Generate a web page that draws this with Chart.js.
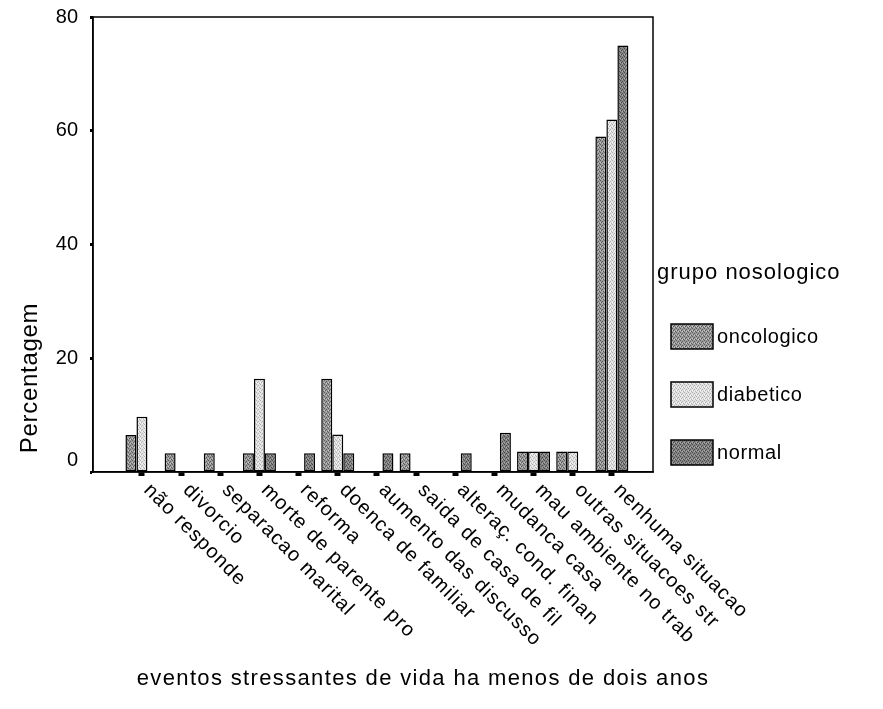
<!DOCTYPE html>
<html><head><meta charset="utf-8">
<script src="https://cdn.jsdelivr.net/npm/chart.js@4/dist/chart.umd.min.js"></script>
<style>html,body{margin:0;padding:0;background:#fff}#wrap{width:883px;height:709px}</style>
</head><body><div id="wrap"><canvas id="c" width="883" height="709"></canvas></div>
<script>
const categories = ["não responde","divorcio","separacao marital","morte de parente pro","reforma","doenca de familiar","aumento das discusso","saida de casa de fil","alteraç. cond. finan","mudanca casa","mau ambiente no trab","outras situacoes str","nenhuma situacao"];
const oncologico = [6.5, 3.3, 3.3, 3.3, 0, 16.4, 0, 3.3, 0, 0, 3.6, 3.6, 59];
const diabetico  = [9.7, 0, 0, 16.4, 0, 6.6, 0, 0, 0, 0, 3.6, 3.6, 62];
const normal     = [0, 0, 0, 3.3, 3.3, 3.3, 3.3, 0, 3.3, 6.9, 3.6, 0, 75];
const seriesNames = ["oncologico","diabetico","normal"];
const yTickValues = [0, 20, 40, 60, 80];
const xTitle = "eventos stressantes de vida ha menos de dois anos";
const yTitle = "Percentagem";
const legendTitle = "grupo nosologico";

const FONT = "'Liberation Sans', Arial, Helvetica, sans-serif";

function makePattern(base, dark, light) {
  const c = document.createElement('canvas');
  c.width = 4; c.height = 4;
  const g = c.getContext('2d');
  g.fillStyle = base; g.fillRect(0, 0, 4, 4);
  g.fillStyle = dark;
  g.fillRect(0, 0, 1, 1); g.fillRect(2, 1, 1, 1); g.fillRect(1, 2, 1, 1); g.fillRect(3, 3, 1, 1);
  g.fillStyle = light;
  g.fillRect(2, 3, 1, 1); g.fillRect(0, 2, 1, 1);
  return g.createPattern(c, 'repeat');
}
const canvas = document.getElementById('c');
const fills = [
  makePattern('#9a9a9a', '#5a5a5a', '#c6c6c6'),
  makePattern('#e2e2e2', '#b0b0b0', '#f8f8f8'),
  makePattern('#848484', '#4a4a4a', '#aaaaaa')
];
const seriesValues = [oncologico, diabetico, normal];

function spacedText(ctx, text, x, y, spacing) {
  if ('letterSpacing' in ctx) {
    ctx.letterSpacing = spacing + 'px';
    ctx.fillText(text, x, y);
    ctx.letterSpacing = '0px';
  } else {
    ctx.fillText(text, x, y);
  }
}

const decor = {
  id: 'decor',
  afterDatasetsDraw(chart) {
    const {ctx, chartArea: a} = chart;
    ctx.save();
    ctx.strokeStyle = '#000';
    ctx.lineWidth = 1.5;
    ctx.strokeRect(a.left, a.top, a.right - a.left, a.bottom - a.top);
    ctx.restore();
  },
  afterDraw(chart) {
    const {ctx, chartArea: a} = chart;
    const xs = chart.scales.x;
    ctx.save();
    ctx.fillStyle = '#000';
    // category labels, slanted downward
    ctx.font = '20px ' + FONT;
    ctx.textAlign = 'left';
    ctx.textBaseline = 'top';
    categories.forEach((lab, i) => {
      const px = xs.getPixelForValue(i);
      ctx.save();
      ctx.translate(px + 12, a.bottom + 8);
      ctx.rotate(Math.PI / 4);
      spacedText(ctx, lab, 0, 0, 1.1);
      ctx.restore();
    });
    // x title
    ctx.font = '22px ' + FONT;
    ctx.textAlign = 'center';
    ctx.textBaseline = 'middle';
    spacedText(ctx, xTitle, 423, 679, 1.35);
    // y title
    ctx.save();
    ctx.font = '24px ' + FONT;
    ctx.translate(30, 378);
    ctx.rotate(-Math.PI / 2);
    spacedText(ctx, yTitle, 0, 0, 0.7);
    ctx.restore();
    // legend
    ctx.textAlign = 'left';
    ctx.font = '22px ' + FONT;
    spacedText(ctx, legendTitle, 657, 273, 1);
    ctx.font = '20px ' + FONT;
    chart.data.datasets.forEach((ds, k) => {
      const top = 324 + k * 58;
      ctx.fillStyle = ds.backgroundColor;
      ctx.fillRect(671, top, 42, 25);
      ctx.strokeStyle = '#000';
      ctx.lineWidth = 1.5;
      ctx.strokeRect(671, top, 42, 25);
      ctx.fillStyle = '#000';
      spacedText(ctx, ds.label, 717, top + 13, 0.6);
    });
    ctx.restore();
  }
};

new Chart(canvas, {
  type: 'bar',
  data: {
    datasets: seriesNames.map((name, k) => ({
      label: name,
      data: seriesValues[k].map((v, i) => ({x: i, y: v})),
      backgroundColor: fills[k],
      borderColor: '#000',
      borderWidth: 1.5,
      borderSkipped: false
    }))
  },
  options: {
    responsive: false,
    animation: false,
    devicePixelRatio: 1,
    layout: {padding: {top: 17, right: 230, bottom: 0, left: 0}},
    plugins: {legend: {display: false}, tooltip: {enabled: false}, title: {display: false}},
    datasets: {bar: {categoryPercentage: 0.843, barPercentage: 1}},
    scales: {
      x: {
        type: 'linear', min: -1.25, max: 13.05, offset: false,
        afterBuildTicks: s => { s.ticks = categories.map((_, i) => ({value: i})); },
        afterFit: s => { s.height = 237; s.paddingLeft = 0; s.paddingRight = 0; },
        ticks: {display: false},
        grid: {offset: false, drawOnChartArea: false, drawTicks: true, tickLength: 4, tickWidth: 6, tickColor: '#000'},
        border: {display: true, color: '#000', width: 1.5}
      },
      y: {
        min: 0, max: 80,
        afterBuildTicks: s => { s.ticks = yTickValues.map(v => ({value: v})); },
        afterFit: s => { s.width = 93; s.paddingTop = 0; s.paddingBottom = 0; },
        ticks: {
          color: '#000', font: {family: FONT, size: 20}, padding: 12,
          callback: v => (v === 0 ? ['0', ''] : String(v))
        },
        grid: {drawOnChartArea: false, drawTicks: true, tickLength: 3, tickWidth: 3, tickColor: '#000'},
        border: {display: true, color: '#000', width: 1.5}
      }
    }
  },
  plugins: [decor]
});
</script>
</body></html>
